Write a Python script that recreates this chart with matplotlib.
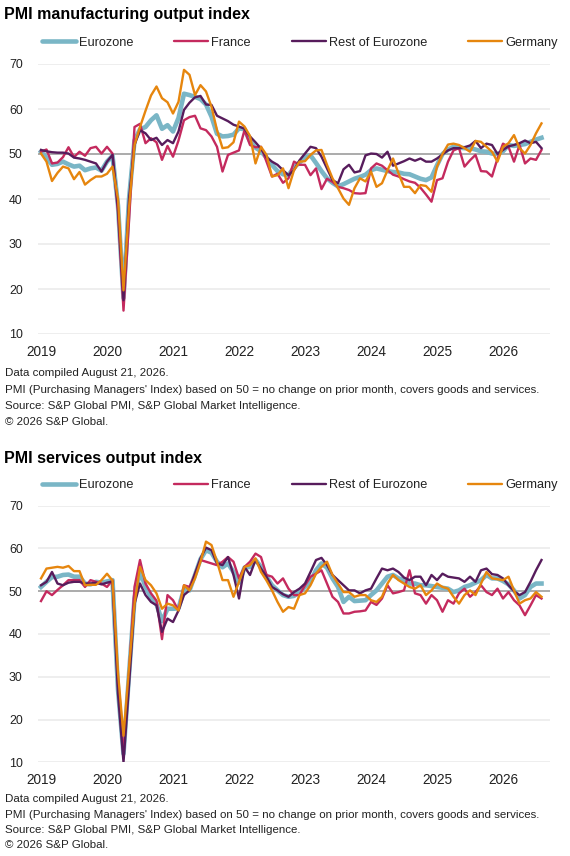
import matplotlib
matplotlib.use('Agg')
import matplotlib.pyplot as plt
from matplotlib.lines import Line2D
import numpy as np

plt.rcParams['font.family'] = ['Liberation Sans', 'DejaVu Sans']

# monthly, Jan 2019 .. Aug 2026
n_months = 92
years = [2019, 2020, 2021, 2022, 2023, 2024, 2025, 2026]
series_names = ['Eurozone', 'France', 'Rest of Eurozone', 'Germany']

mfg_ez = [50.5, 49.2, 47.6, 47.8, 48.3, 47.7, 47.2, 47.4, 46.4, 46.8, 47.0, 46.3,
          48.3, 49.6, 38.5, 18.0, 40.0, 53.0, 55.5, 56.0, 57.5, 58.6, 55.6, 56.4,
          55.0, 58.0, 63.4, 63.1, 62.7, 62.2, 61.0, 58.3, 54.5, 53.9, 54.0, 54.3,
          55.7, 55.5, 52.8, 51.4, 50.6, 49.2, 47.6, 46.2, 45.5, 45.3, 47.0, 48.1,
          49.2, 49.7, 48.0, 46.2, 44.6, 43.6, 42.8, 43.3, 43.9, 44.5, 44.9, 45.4,
          46.4, 46.8, 46.5, 46.2, 46.0, 45.9, 45.6, 45.5, 45.0, 44.5, 44.2, 44.8,
          47.5, 50.0, 51.0, 51.6, 51.4, 51.3, 51.3, 51.0, 50.6, 50.5, 50.1, 50.0,
          50.6, 52.0, 51.8, 52.0, 52.2, 52.7, 53.2, 53.6]
mfg_fr = [50.5, 51.0, 47.9, 48.1, 49.3, 51.5, 49.3, 50.5, 49.6, 51.3, 51.6, 50.1,
          51.6, 50.1, 37.0, 15.2, 35.0, 56.0, 56.7, 52.4, 53.5, 52.6, 48.7, 51.8,
          49.4, 53.0, 57.5, 58.2, 58.5, 55.7, 55.3, 53.9, 51.6, 46.1, 49.8, 50.3,
          50.8, 55.3, 52.0, 51.5, 51.6, 48.3, 45.0, 45.6, 43.6, 44.6, 48.3, 47.6,
          47.6, 45.3, 46.8, 42.2, 44.5, 43.8, 42.7, 42.4, 42.0, 41.3, 41.2, 41.3,
          46.8, 47.9, 47.4, 46.4, 45.4, 45.0, 44.4, 43.9, 43.6, 42.5, 41.0, 39.4,
          44.2, 44.6, 48.3, 50.8, 51.3, 47.2, 48.6, 49.8, 46.2, 46.1, 45.0, 49.0,
          52.3, 51.6, 48.3, 52.0, 47.9, 49.0, 48.7, 50.9]
mfg_re = [50.9, 50.6, 50.4, 50.3, 50.3, 50.1, 49.2, 49.0, 48.7, 48.3, 47.9, 46.1,
          48.3, 49.8, 38.0, 17.5, 40.0, 52.0, 55.3, 54.6, 53.1, 53.6, 52.0, 53.1,
          52.4, 55.0, 59.8, 61.4, 62.6, 62.9, 61.0, 60.9, 58.5, 57.9, 57.3, 56.5,
          56.1, 55.6, 53.9, 52.6, 51.2, 49.3, 48.3, 47.6, 46.4, 45.3, 46.4, 48.6,
          50.1, 51.6, 51.3, 49.4, 46.8, 44.2, 43.5, 46.6, 47.6, 45.9, 46.2, 49.7,
          50.1, 50.0, 49.2, 50.5, 47.4, 47.9, 48.4, 49.0, 48.5, 49.0, 48.3, 48.3,
          49.0, 49.9, 50.8, 51.3, 51.3, 51.5, 51.9, 52.9, 51.3, 52.3, 52.0, 50.0,
          50.9, 51.7, 52.0, 52.4, 53.0, 52.4, 52.7, 51.3]
mfg_de = [50.1, 48.3, 44.0, 45.8, 47.2, 46.8, 44.4, 46.0, 43.2, 44.2, 45.0, 45.0,
          45.6, 47.2, 40.0, 19.7, 38.0, 52.0, 56.0, 59.6, 63.0, 65.0, 62.4, 61.5,
          59.0, 61.6, 68.7, 67.6, 63.1, 65.3, 63.9, 60.5, 55.3, 51.3, 51.5, 52.6,
          57.2, 56.1, 54.0, 47.9, 51.6, 49.8, 45.0, 45.3, 46.8, 42.4, 46.4, 48.3,
          48.4, 49.8, 50.8, 50.9, 47.6, 44.6, 42.4, 40.1, 38.7, 42.4, 44.6, 43.9,
          46.1, 42.7, 43.5, 46.4, 49.0, 45.7, 42.7, 42.7, 41.3, 43.1, 42.9, 41.6,
          47.2, 50.0, 52.1, 52.3, 52.0, 51.3, 50.5, 52.9, 52.7, 51.6, 50.5, 48.3,
          51.6, 52.4, 54.2, 51.3, 50.1, 52.0, 54.6, 56.8]

svc_ez = [51.0, 52.2, 53.3, 53.4, 53.8, 53.9, 53.4, 53.4, 51.8, 51.6, 52.2, 52.0,
          52.3, 52.6, 27.0, 12.0, 30.5, 48.3, 54.7, 51.0, 48.5, 47.0, 43.0, 45.9,
          45.9, 46.0, 50.5, 50.2, 53.8, 57.5, 59.6, 59.0, 56.9, 55.6, 56.5, 54.5,
          52.0, 55.5, 55.7, 57.3, 55.7, 53.4, 51.4, 50.2, 49.1, 48.7, 48.9, 49.8,
          51.0, 52.2, 54.9, 56.5, 55.5, 53.0, 51.0, 47.5, 48.7, 47.7, 47.8, 47.9,
          49.1, 50.2, 51.8, 53.4, 53.8, 53.0, 52.6, 51.8, 51.8, 51.4, 51.4, 51.2,
          51.0, 50.8, 50.6, 49.8, 50.2, 51.0, 51.4, 52.0, 52.6, 53.8, 53.0, 53.0,
          52.4, 51.6, 50.2, 48.3, 49.1, 51.0, 51.8, 51.8]
svc_fr = [47.7, 50.0, 49.1, 50.3, 51.4, 52.6, 52.6, 52.6, 51.0, 52.6, 52.2, 51.8,
          51.0, 52.6, 28.0, 11.5, 31.0, 51.0, 57.3, 51.8, 49.5, 47.8, 38.8, 49.1,
          47.9, 45.5, 51.4, 51.0, 54.0, 57.3, 56.9, 56.5, 56.1, 56.9, 58.0, 56.9,
          53.0, 55.7, 56.9, 58.8, 58.0, 53.8, 53.4, 51.8, 53.0, 50.6, 49.1, 49.1,
          51.4, 53.4, 54.1, 54.9, 51.8, 48.7, 47.5, 44.8, 44.8, 45.2, 45.3, 45.5,
          47.5, 46.8, 48.3, 51.4, 49.5, 49.8, 50.2, 54.9, 49.5, 49.1, 47.1, 49.1,
          47.9, 45.2, 47.9, 47.1, 49.5, 50.6, 48.7, 49.8, 51.4, 49.8, 49.1, 50.6,
          48.3, 49.8, 47.9, 46.7, 44.4, 46.7, 49.1, 48.3]
svc_re = [51.4, 52.2, 54.5, 51.8, 51.4, 52.0, 52.2, 52.2, 51.8, 51.8, 52.0, 51.6,
          52.0, 52.3, 26.0, 10.0, 28.0, 47.0, 51.8, 49.1, 47.5, 46.7, 40.5, 43.6,
          42.8, 45.5, 49.1, 50.2, 54.1, 57.7, 60.2, 59.6, 56.5, 56.1, 58.0, 53.8,
          48.3, 55.7, 53.8, 57.3, 55.3, 53.4, 51.0, 50.2, 49.3, 48.7, 49.8, 50.6,
          51.8, 54.5, 57.3, 57.8, 56.1, 53.8, 52.6, 51.4, 50.2, 50.2, 49.5, 50.2,
          50.6, 53.0, 55.3, 54.9, 55.3, 54.5, 53.2, 52.6, 53.4, 53.4, 51.4, 53.8,
          52.6, 54.1, 53.4, 53.2, 53.0, 52.2, 53.4, 52.2, 54.9, 55.3, 54.0, 53.8,
          53.0, 51.4, 50.0, 49.1, 49.8, 52.2, 54.9, 57.3]
svc_de = [53.0, 55.3, 55.5, 55.7, 55.5, 55.9, 54.7, 54.7, 51.4, 51.5, 51.5, 52.6,
          54.1, 52.5, 31.0, 16.2, 32.0, 47.0, 55.7, 52.6, 51.4, 49.5, 45.9, 47.1,
          46.7, 45.5, 51.4, 50.2, 53.0, 56.9, 61.6, 60.8, 56.9, 52.6, 52.6, 48.7,
          52.2, 55.7, 56.1, 57.7, 54.5, 52.5, 50.2, 47.5, 45.2, 46.3, 45.9, 49.1,
          49.5, 51.4, 54.1, 55.7, 56.9, 53.8, 51.8, 49.8, 49.8, 48.7, 49.1, 49.1,
          47.9, 47.5, 48.7, 51.8, 53.8, 52.6, 51.8, 51.0, 50.6, 51.4, 49.1, 50.2,
          51.8, 51.0, 50.6, 48.7, 47.1, 49.1, 50.2, 49.1, 51.8, 54.5, 53.0, 52.8,
          52.6, 53.4, 50.2, 47.1, 47.9, 48.3, 49.8, 48.7]

colors = ['#7ab6c6', '#c42a5e', '#571c5c', '#e6860e']
widths = [3.3, 1.7, 1.7, 1.7]

notes = ['Data compiled August 21, 2026.',
         "PMI (Purchasing Managers' Index) based on 50 = no change on prior month, covers goods and services.",
         'Source: S&P Global PMI, S&P Global Market Intelligence.',
         '\u00a9 2026 S&P Global.']

W, H = 570, 856
fig = plt.figure(figsize=(W / 100, H / 100), dpi=100)
x = 2019 + np.arange(n_months) / 12.0
txt = '#222222'


def panel(top_px, bot_px, title, title_px, legend_px, note_px, data):
    ax = fig.add_axes([38 / W, 1 - bot_px / H, 512 / W, (bot_px - top_px) / H])
    fig.text(4 / W, 1 - title_px / H, title, fontsize=11.5, fontweight='bold',
             color='black', va='center', ha='left')
    for vals, c, lw in zip(data, colors, widths):
        ax.plot(x, vals, color=c, lw=lw, solid_joinstyle='round', zorder=3)
    ax.axhline(50, color='#a6a6a6', lw=1.3, zorder=2)
    ax.set_xlim(2019 - 3 / 66, 2019 + 509 / 66)
    ax.set_ylim(10, 70)
    ax.set_yticks(range(10, 71, 10))
    ax.set_xticks(years)
    ax.set_xticklabels([str(y) for y in years])
    ax.grid(axis='y', color='#ebebeb', lw=1.2, zorder=0)
    ax.set_axisbelow(True)
    for s in ax.spines.values():
        s.set_visible(False)
    ax.tick_params(axis='y', length=0, pad=11, labelsize=8.9, labelcolor=txt)
    ax.tick_params(axis='x', length=0, pad=8, labelsize=9.8, labelcolor=txt)
    handles = [Line2D([], [], color=c, lw=lw, solid_capstyle='round')
               for c, lw in zip(colors, widths)]
    ax.legend(handles, series_names, ncol=4, loc='center left',
              bbox_to_anchor=(42 / W, 1 - legend_px / H), bbox_transform=fig.transFigure,
              frameon=False, borderpad=0, borderaxespad=0, fontsize=9.2,
              handlelength=2.65, handletextpad=0.25, columnspacing=3.2,
              labelcolor=txt)
    for i, line in enumerate(notes):
        fig.text(5 / W, 1 - note_px[i] / H, line, fontsize=8.25, color=txt,
                 va='center', ha='left')
    return ax


panel(64, 334, 'PMI manufacturing output index', 14, 42.7,
      [373, 389.5, 406, 422], [mfg_ez, mfg_fr, mfg_re, mfg_de])
panel(505.7, 762.3, 'PMI services output index', 458, 485,
      [799, 814.5, 830, 845.5], [svc_ez, svc_fr, svc_re, svc_de])

fig.savefig('out.png', dpi=100)
